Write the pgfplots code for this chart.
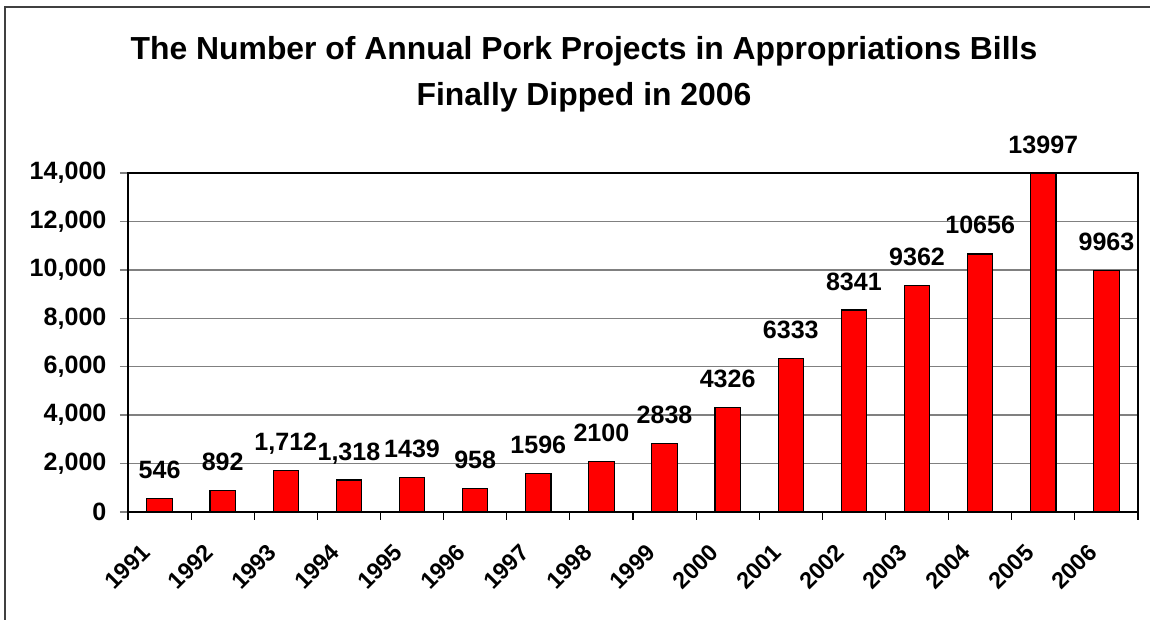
\documentclass[border=0pt]{standalone}
\usepackage{fontspec}
\setmainfont{Liberation Sans}
\usepackage{pgfplots}
\pgfplotsset{compat=1.18}
\definecolor{barred}{RGB}{255,0,0}
\definecolor{gridgray}{RGB}{128,128,128}
\definecolor{framegray}{RGB}{64,64,64}
\newcommand{\lblfont}{\bfseries\fontsize{18.8}{20}\selectfont}
\newcommand{\yrfont}{\bfseries\fontsize{17.5}{19}\selectfont}

\begin{document}
\begin{tikzpicture}
\begin{axis}[
  at={(0,0)}, anchor=south west,
  scale only axis, width=757.5pt, height=254.25pt,
  xmin=-0.5, xmax=15.5, ymin=0, ymax=14000,
  clip=false,
  axis line style={black, line width=1.4pt},
  ybar, bar width=19pt,
  xtick={0,...,15}, xticklabels={},
  major x tick style={draw=none},
  minor xtick={-0.5,0.5,...,15.5},
  minor x tick style={black, line width=0.9pt},
  minor tick length=6pt,
  ytick={0,2000,...,14000},
  ymajorgrids, major grid style={gridgray, line width=1.1pt},
  major tick length=6pt, tick align=outside, tick pos=left,
  y tick style={gridgray, line width=1.1pt},
  /pgf/number format/assume math mode=true,
  /pgf/number format/1000 sep={,},
  scaled y ticks=false,
  yticklabel style={font=\lblfont, anchor=east, inner sep=0pt, xshift=-10pt},
  nodes near coords, point meta=explicit symbolic,
  every node near coord/.append style={font=\lblfont, anchor=base, inner sep=0pt, yshift=15pt},
]
\addplot[fill=barred, draw=black, line width=0.9pt] coordinates {
  (0,546) [546]
  (1,892) [892]
  (2,1712) [{1,712}]
  (3,1318) [{1,318}]
  (4,1439) [1439]
  (5,958) [958]
  (6,1596) [1596]
  (7,2100) [2100]
  (8,2838) [2838]
  (9,4326) [4326]
  (10,6333) [6333]
  (11,8341) [8341]
  (12,9362) [9362]
  (13,10656) [10656]
  (14,13997) [13997]
  (15,9963) [9963]
};
\end{axis}
\begin{scope}[x=0.75pt, y=0.75pt]
  \path[use as bounding box] (-128,-108) rectangle (1022,512);
  \draw[framegray, line width=1.5pt] (-123,-200) rectangle (1100,505);
  \node[font=\bfseries\fontsize{23.9}{26}\selectfont, anchor=base] at (456,452) {The Number of Annual Pork Projects in Appropriations Bills};
  \node[font=\bfseries\fontsize{23.9}{26}\selectfont, anchor=base] at (456,406) {Finally Dipped in 2006};
  % year labels, 45 degrees, ending just left of each category centre
  \foreach \yr [count=\i from 0] in {1991,1992,1993,1994,1995,1996,1997,1998,1999,2000,2001,2002,2003,2004,2005,2006}
    \node[font=\yrfont, rotate=45, anchor=base west, inner sep=0pt]
      at ({63.125*(\i+0.5)-45},-79) {\yr};
\end{scope}
\end{tikzpicture}
\end{document}
